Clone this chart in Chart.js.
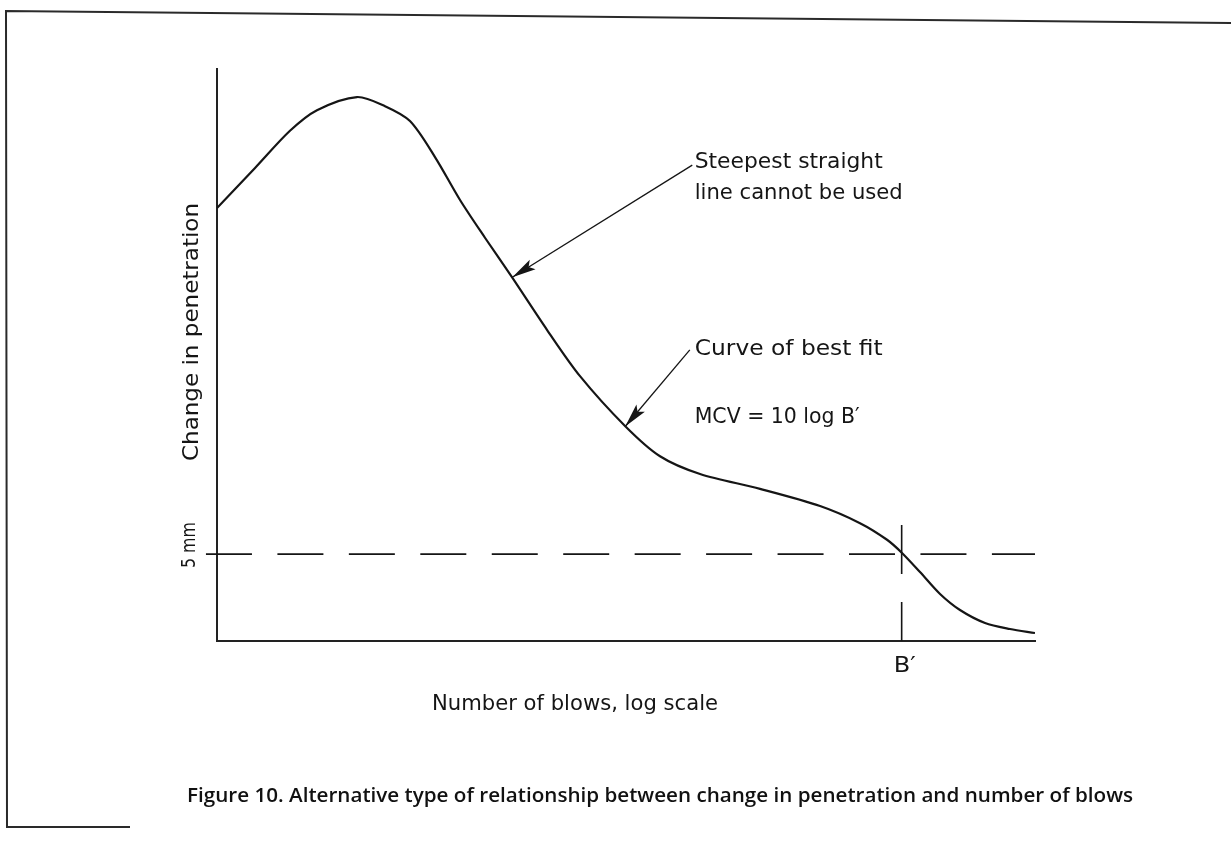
<!DOCTYPE html>
<html>
<head>
<meta charset="utf-8">
<script src="https://cdn.jsdelivr.net/npm/chart.js@4.4.1/dist/chart.umd.min.js"></script>
<style>
  html, body { margin: 0; padding: 0; background: #fff; }
  #wrap { width: 1231px; height: 841px; position: relative; }
</style>
</head>
<body>
<div id="wrap"><canvas id="c" width="1231" height="841"></canvas></div>
<script>
// ---- data (arbitrary units, x = log number of blows) ----
const curveX = [0, 4.65, 8.92, 12.22, 17.11, 20.54, 23.59, 26.65, 29.71, 32.76, 36.06, 40.34, 44.38, 49.88, 54.16, 59.05, 66.38, 73.72, 78.61, 81.91, 83.74, 85.94, 88.39, 90.83, 93.89, 96.94, 100];
const curveY = [75.7, 82.7, 89.2, 92.8, 95.1, 93.5, 90.9, 84.6, 77.1, 70.5, 63.6, 54.4, 46.3, 37.6, 32.3, 29.2, 26.6, 23.6, 20.6, 17.7, 15.4, 12.06, 8.22, 5.42, 3.15, 2.1, 1.4];
const fiveMmLevel = 15.2;          // change in penetration = 5 mm
const bPrimeX = 83.7;              // B'
const bPrimeSegY = [20.3, 11.7, null, 6.8, 0];
const dashX = [-1.35, 100];
const arrow1X = [58.1, 36.1], arrow1Y = [83.2, 63.6];
const arrow2X = [57.8, 49.9], arrow2Y = [50.9, 37.5];
const noteTexts = ['Steepest straight', 'line cannot be used', 'Curve of best fit', "MCV = 10 log B\u2032"];
const noteX = [58.4, 58.4, 58.4, 58.4];
const noteY = [83.6, 78.3, 50.9, 39.0];
const xTitle = 'Number of blows, log scale';
const yTitle = 'Change in penetration';
const yTickLabel = '5 mm';
const xTickLabel = 'B\u2032';
const caption = 'Figure 10. Alternative type of relationship between change in penetration and number of blows';

const zip = (xs, ys) => xs.map((x, i) => ({ x, y: ys[i] }));
const INK = '#151515';
const LINEFONT = '"DejaVu Sans", sans-serif';

function fitText(ctx, text, x, y, width, font, align, rot) {
  ctx.save();
  ctx.font = font;
  ctx.textBaseline = 'middle';
  ctx.textAlign = align || 'left';
  const w = ctx.measureText(text).width;
  ctx.translate(x, y);
  if (rot) ctx.rotate(rot);
  ctx.scale(width / w, 1);
  ctx.fillText(text, 0, 0);
  ctx.restore();
}

function arrowHead(ctx, fromPx, toPx, len, half) {
  const dx = toPx.x - fromPx.x, dy = toPx.y - fromPx.y;
  const d = Math.hypot(dx, dy), ux = dx / d, uy = dy / d;
  const bx = toPx.x - ux * len, by = toPx.y - uy * len;
  ctx.beginPath();
  ctx.moveTo(toPx.x, toPx.y);
  ctx.lineTo(bx - uy * half, by + ux * half);
  ctx.lineTo(toPx.x - ux * len * 0.8, toPx.y - uy * len * 0.8);
  ctx.lineTo(bx + uy * half, by - ux * half);
  ctx.closePath();
  ctx.fill();
}

const decor = {
  id: 'decor',
  afterDatasetsDraw(chart) {
    const ctx = chart.ctx, xs = chart.scales.x, ys = chart.scales.y, a = chart.chartArea;
    ctx.save();
    ctx.fillStyle = INK;
    ctx.strokeStyle = '#2a2a2a';
    // scanned frame
    ctx.lineWidth = 2;
    ctx.beginPath();
    ctx.moveTo(1231, 23); ctx.lineTo(6, 11); ctx.lineTo(7, 827); ctx.lineTo(130, 827);
    ctx.stroke();
    // arrowheads
    [3, 4].forEach((idx) => {
      const pts = chart.getDatasetMeta(idx).data;
      arrowHead(ctx, pts[0], pts[1], 24, 5.5);
    });
    // annotation texts
    const widths = [188, 208, 188, 165];
    noteTexts.forEach((t, i) => {
      fitText(ctx, t, xs.getPixelForValue(noteX[i]), ys.getPixelForValue(noteY[i]), widths[i], '21px ' + LINEFONT, 'left');
    });
    // axis labels
    fitText(ctx, xTitle, (a.left + a.right) / 2 - 51, a.bottom + 64, 286, '21px ' + LINEFONT, 'center');
    fitText(ctx, yTitle, a.left - 25, 332, 258, '22px ' + LINEFONT, 'center', -Math.PI / 2);
    fitText(ctx, yTickLabel, a.left - 27, ys.getPixelForValue(fiveMmLevel) - 9, 46, '20px ' + LINEFONT, 'center', -Math.PI / 2);
    fitText(ctx, xTickLabel, xs.getPixelForValue(bPrimeX) + 3, a.bottom + 26, 22, '21px ' + LINEFONT, 'center');
    // caption
    ctx.fillStyle = '#111';
    fitText(ctx, caption, 660, 797, 946, '600 19px "Open Sans", sans-serif', 'center');
    ctx.restore();
  }
};

new Chart(document.getElementById('c'), {
  type: 'line',
  data: {
    datasets: [
      { data: zip(curveX, curveY), borderColor: INK, borderWidth: 2.2, pointRadius: 0, tension: 0.3 },
      { data: zip(dashX, [fiveMmLevel, fiveMmLevel]), borderColor: INK, borderWidth: 1.8, pointRadius: 0, borderDash: [46, 25.45], clip: false },
      { data: zip(bPrimeSegY.map(() => bPrimeX), bPrimeSegY), borderColor: INK, borderWidth: 1.6, pointRadius: 0, spanGaps: false },
      { data: zip(arrow1X, arrow1Y), borderColor: INK, borderWidth: 1.3, pointRadius: 0 },
      { data: zip(arrow2X, arrow2Y), borderColor: INK, borderWidth: 1.3, pointRadius: 0 }
    ]
  },
  options: {
    responsive: false,
    animation: false,
    devicePixelRatio: 1,
    layout: { padding: { left: 217, right: 196, top: 69, bottom: 200 } },
    plugins: { legend: { display: false }, tooltip: { enabled: false }, title: { display: false } },
    scales: {
      x: { type: 'linear', min: 0, max: 100, ticks: { display: false }, grid: { display: false, drawTicks: false }, border: { display: true, color: '#222', width: 2 } },
      y: { type: 'linear', min: 0, max: 100, ticks: { display: false }, grid: { display: false, drawTicks: false }, border: { display: true, color: '#222', width: 2 } }
    }
  },
  plugins: [decor]
});
</script>
</body>
</html>
